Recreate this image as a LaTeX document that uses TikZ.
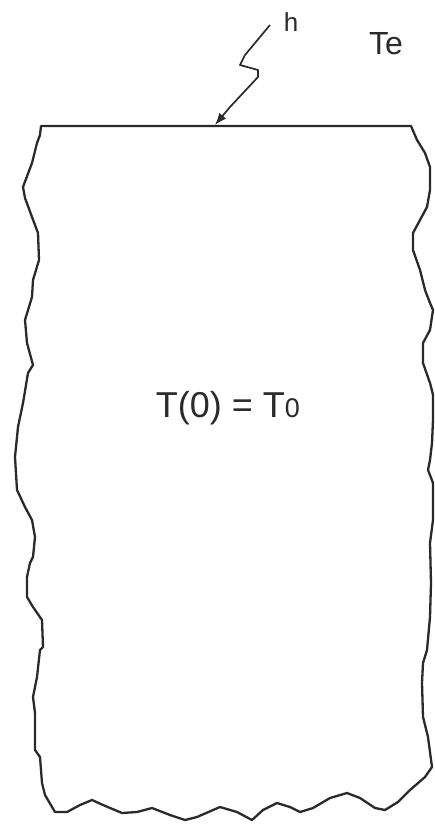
\documentclass[tikz,border=0pt]{standalone}
\usepackage{fontspec}
\setmainfont{Liberation Sans}
\usetikzlibrary{arrows.meta}
\definecolor{ink}{HTML}{2A2A2A}
\begin{document}
\begin{tikzpicture}[x=1pt,y=-1pt,
  edge/.style={draw=ink,line width=2.3pt,line join=round,line cap=round},
  lbl/.style={inner sep=0pt,text=ink,font=\fontsize{#1}{#1}\selectfont},
  flux/.style={draw=ink,line width=1.7pt,line join=round,-{Latex[length=12pt,width=9pt]}}]
\useasboundingbox (0,0) rectangle (435,824);
% body outline
\draw[edge] (41,126) -- (411,126)
  -- (417,140) -- (425,153) -- (430,167) -- (430,190) -- (427,207) -- (420,220)
  -- (413,233) -- (413,250) -- (420,270) -- (425,290) -- (430,303) -- (433,310)
  -- (430,330) -- (423,343) -- (423,363) -- (430,383) -- (433,395) -- (433,420)
  -- (432,443) -- (430,460) -- (428,470) -- (433,483) -- (433,500) -- (433,520)
  -- (430,543) -- (431,583) -- (430,617) -- (427,650) -- (423,663) -- (422,683)
  -- (423,717) -- (428,737) -- (432,767) -- (425,777) -- (410,790) -- (398,802)
  -- (385,810) -- (375,808) -- (360,798) -- (347,793) -- (330,798) -- (313,808)
  -- (300,812) -- (290,807) -- (277,803) -- (263,810) -- (252,820) -- (237,812)
  -- (220,807) -- (197,817) -- (185,820) -- (170,815) -- (152,808) -- (137,812)
  -- (122,813) -- (103,805) -- (92,800) -- (80,805) -- (67,812) -- (55,812)
  -- (45,795) -- (42,783) -- (40,757) -- (35,750) -- (35,713) -- (33,697)
  -- (37,677) -- (40,650) -- (43,647) -- (42,620) -- (33,607) -- (27,597)
  -- (27,577) -- (30,563) -- (33,557) -- (35,537) -- (32,520) -- (25,507)
  -- (17,490) -- (15,457) -- (18,427) -- (23,403) -- (28,373) -- (33,365)
  -- (27,343) -- (25,320) -- (32,297) -- (33,280) -- (39,260) -- (38,233)
  -- (32,217) -- (25,198) -- (23,187) -- (32,163) -- (37,143) -- (40,135) -- cycle;
% labels
\node[lbl=26] (h) at (291,22) {h};
\node[lbl=32] (te) at (386,44) {Te};
\node[lbl=36] (t0) at (228,408) {T(0) = T{\fontsize{27}{27}\selectfont 0}};
% heat flux arrow
\coordinate (fs) at (270,25);
\coordinate (hit) at (215,125);
\draw[flux] (fs) -- (260,37) -- (245,55) -- (240,65) -- (258,70) -- (258,77)
  -- (230,107) -- (hit);
\end{tikzpicture}
\end{document}
